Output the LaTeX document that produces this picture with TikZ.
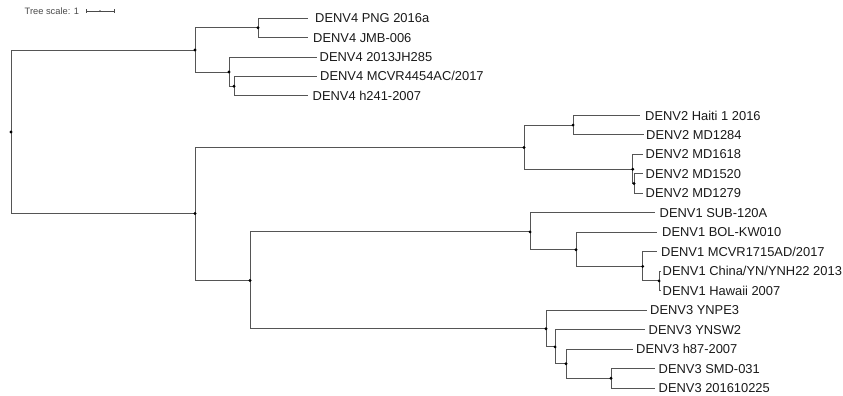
\documentclass[tikz,border=0pt]{standalone}
\usepackage{fontspec}
\setmainfont{Liberation Sans}
\definecolor{branch}{HTML}{555555}
\definecolor{labeltxt}{HTML}{1A1A1A}
\definecolor{scaletxt}{HTML}{4A4A4A}
\begin{document}
\begin{tikzpicture}[x=1pt,y=-1pt,
  br/.style={draw=branch,line width=0.85pt},
  dot/.style={circle,fill=black,inner sep=0pt,minimum size=3.2pt},
  leaf/.style={anchor=base west,inner sep=0pt,text=labeltxt,font=\fontsize{12.9}{14}\selectfont}]
\useasboundingbox (0,0) rectangle (843,396);
% scale
\node[anchor=base west,inner sep=0pt,text=scaletxt,font=\fontsize{9.3}{10}\selectfont] (scaletext) at (24.5,14.4) {Tree scale: 1};
\coordinate (sbL) at (86,11);
\coordinate (sbR) at (114,11);
\draw[draw=scaletxt,line width=0.75pt] (sbL) -- (sbR);
\draw[draw=scaletxt,line width=0.75pt] ([yshift=-1.7pt]sbL) -- ([yshift=1.7pt]sbL);
\draw[draw=scaletxt,line width=0.75pt] ([yshift=-1.7pt]sbR) -- ([yshift=1.7pt]sbR);
\fill[scaletxt] (100,11) circle (0.9pt);
% internal nodes
\coordinate (r) at (11,132);
\coordinate (n4) at (195,50);
\coordinate (n4a) at (258,27.7);
\coordinate (n4b) at (229,72);
\coordinate (n4c) at (234,86.2);
\coordinate (nB) at (195,213.5);
\coordinate (n2) at (524,147.5);
\coordinate (n2a) at (573,125.1);
\coordinate (n2b) at (632.7,169.2);
\coordinate (n2c) at (634,183.5);
\coordinate (n13) at (250,280.5);
\coordinate (n1) at (530,231.9);
\coordinate (n1a) at (576,249.8);
\coordinate (n1b) at (642.7,266.4);
\coordinate (n1c) at (659,280.9);
\coordinate (n3) at (546,328.7);
\coordinate (n3a) at (555,346.9);
\coordinate (n3b) at (566,363.8);
\coordinate (n3c) at (611,378.3);
% leaf ends
\coordinate (e0) at (308,18);
\coordinate (e1) at (308,37.5);
\coordinate (e2) at (317,57);
\coordinate (e3) at (317,76.4);
\coordinate (e4) at (308,95.9);
\coordinate (e5) at (640,115.4);
\coordinate (e6) at (644,134.8);
\coordinate (e7) at (643,154.3);
\coordinate (e8) at (643,173.8);
\coordinate (e9) at (643,193.2);
\coordinate (e10) at (655,212.7);
\coordinate (e11) at (657,232.2);
\coordinate (e12) at (657,251.6);
\coordinate (e13) at (661,271.1);
\coordinate (e14) at (661,290.6);
\coordinate (e15) at (646.7,310);
\coordinate (e16) at (645,329.5);
\coordinate (e17) at (632.7,349);
\coordinate (e18) at (655,368.5);
\coordinate (e19) at (655,388);
% labels
\node[leaf] (l0) at (315,22.6) {DENV4 PNG 2016a};
\node[leaf] (l1) at (313,42.1) {DENV4 JMB-006};
\node[leaf] (l2) at (319.5,61.6) {DENV4 2013JH285};
\node[leaf] (l3) at (320,81) {DENV4 MCVR4454AC/2017};
\node[leaf] (l4) at (312.5,100.5) {DENV4 h241-2007};
\node[leaf] (l5) at (645,120) {DENV2 Haiti 1 2016};
\node[leaf] (l6) at (646,139.4) {DENV2 MD1284};
\node[leaf] (l7) at (645.5,158.9) {DENV2 MD1618};
\node[leaf] (l8) at (645.5,178.4) {DENV2 MD1520};
\node[leaf] (l9) at (645.5,197.8) {DENV2 MD1279};
\node[leaf] (l10) at (659.5,217.3) {DENV1 SUB-120A};
\node[leaf] (l11) at (662,236.8) {DENV1 BOL-KW010};
\node[leaf] (l12) at (661,256.2) {DENV1 MCVR1715AD/2017};
\node[leaf] (l13) at (662.5,275.7) {DENV1 China/YN/YNH22 2013};
\node[leaf] (l14) at (662.5,295.2) {DENV1 Hawaii 2007};
\node[leaf] (l15) at (650,314.6) {DENV3 YNPE3};
\node[leaf] (l16) at (648.5,334.1) {DENV3 YNSW2};
\node[leaf] (l17) at (636,353.6) {DENV3 h87-2007};
\node[leaf] (l18) at (658.5,373.1) {DENV3 SMD-031};
\node[leaf] (l19) at (658.5,392.6) {DENV3 201610225};
% branches
\path[br] (r) |- (n4) (r) |- (nB);
\path[br] (n4) |- (n4a) (n4) |- (n4b);
\path[br] (n4a) |- (e0) (n4a) |- (e1);
\path[br] (n4b) |- (e2) (n4b) |- (n4c);
\path[br] (n4c) |- (e3) (n4c) |- (e4);
\path[br] (nB) |- (n2) (nB) |- (n13);
\path[br] (n2) |- (n2a) (n2) |- (n2b);
\path[br] (n2a) |- (e5) (n2a) |- (e6);
\path[br] (n2b) |- (e7) (n2b) |- (n2c);
\path[br] (n2c) |- (e8) (n2c) |- (e9);
\path[br] (n13) |- (n1) (n13) |- (n3);
\path[br] (n1) |- (e10) (n1) |- (n1a);
\path[br] (n1a) |- (e11) (n1a) |- (n1b);
\path[br] (n1b) |- (e12) (n1b) |- (n1c);
\path[br] (n1c) |- (e13) (n1c) |- (e14);
\path[br] (n3) |- (e15) (n3) |- (n3a);
\path[br] (n3a) |- (e16) (n3a) |- (n3b);
\path[br] (n3b) |- (e17) (n3b) |- (n3c);
\path[br] (n3c) |- (e18) (n3c) |- (e19);
% node dots
\foreach \n in {r,n4,n4a,n4b,n4c,nB,n2,n2a,n2b,n2c,n13,n1,n1a,n1b,n1c,n3,n3a,n3b,n3c}
  \node[dot] at (\n) {};
\end{tikzpicture}
\end{document}
